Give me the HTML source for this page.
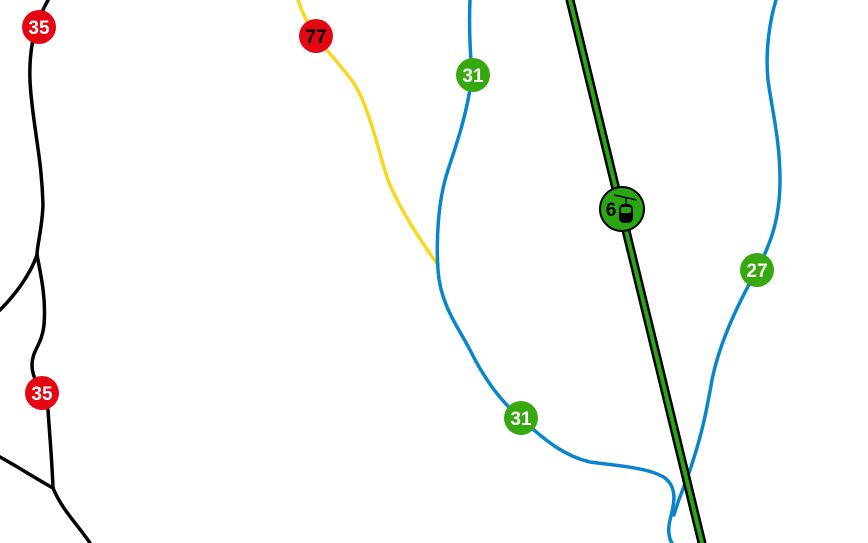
<!DOCTYPE html>
<html><head><meta charset="utf-8"><style>
html,body{margin:0;padding:0;background:#fff;width:868px;height:543px;overflow:hidden}
svg{display:block}
text{font-family:"Liberation Sans",sans-serif;font-weight:bold;font-size:19px;text-anchor:middle}
</style></head><body>
<svg width="868" height="543" viewBox="0 0 868 543" xmlns="http://www.w3.org/2000/svg">
<g fill="none" stroke-linecap="round" stroke-linejoin="round">
<!-- black trails -->
<g stroke="#000" stroke-width="3.5">
<path d="M48,0 C40,15 34,30 32,45 C28,70 30,90 34,120 C38,150 42,170 43,205 C42,230 37,245 37,255"/>
<path d="M37,255 C30,275 15,295 0,310"/>
<path d="M37,255 C42,280 46,300 44,325 C42,345 32,350 32,365 C32,375 36,380 38,385"/>
<path d="M48,410 C50,440 52,460 53,488"/>
<path d="M0,457 C20,468 35,478 53,488"/>
<path d="M53,488 C62,510 78,525 90,543"/>
</g>
<!-- yellow -->
<path stroke="#f9d71c" stroke-width="3.5" d="M298,0 C302,12 308,25 316,36 C330,55 345,70 355,85 C370,110 378,150 388,180 C400,210 420,240 438,265"/>
<!-- blue -->
<g stroke="#0a85cc" stroke-width="3.5">
<path d="M470,0 C469,20 470,50 472,75 C468,110 458,140 448,170 C438,200 436,240 438,270 C440,305 460,330 470,350 C485,380 500,400 520,418 C540,435 560,455 590,462 C620,466 650,468 665,478 C680,490 672,510 670,520 C667,532 670,540 672,543"/>
<path d="M776,0 C770,20 765,50 768,80 C772,110 780,140 780,180 C780,220 770,245 757,270 C740,300 720,340 712,380 C705,420 700,440 690,470 C685,485 678,500 674,515"/>
</g>
<!-- gondola -->
<line x1="570" y1="0" x2="702" y2="543" stroke="#000" stroke-width="9"/>
<line x1="570" y1="0" x2="702" y2="543" stroke="#2aa514" stroke-width="4"/>
</g>
<!-- badges -->
<g>
<circle cx="39" cy="27" r="17" fill="#e30613"/><text x="39" y="34" fill="#fff">35</text>
<circle cx="42" cy="393" r="17" fill="#e30613"/><text x="42" y="400" fill="#fff">35</text>
<circle cx="316" cy="36" r="17" fill="#e30613"/><text x="316" y="43" fill="#000">77</text>
<circle cx="473" cy="75" r="17" fill="#37a80f"/><text x="473" y="82" fill="#fff">31</text>
<circle cx="521" cy="418" r="17" fill="#37a80f"/><text x="521" y="425" fill="#fff">31</text>
<circle cx="757" cy="270" r="17" fill="#37a80f"/><text x="757" y="277" fill="#fff">27</text>
<circle cx="622" cy="209" r="22" fill="#2aa514" stroke="#000" stroke-width="2"/>
<text x="611" y="216" fill="#000">6</text>
<line x1="614" y1="195" x2="637" y2="200" stroke="#000" stroke-width="1.5"/>
<line x1="626" y1="197" x2="626" y2="204" stroke="#000" stroke-width="1.5"/>
<rect x="619" y="204" width="14" height="19" rx="5" fill="#000"/>
<rect x="621" y="207" width="10" height="6" rx="2" fill="#2aa514"/>
</g>
</svg>
</body></html>
